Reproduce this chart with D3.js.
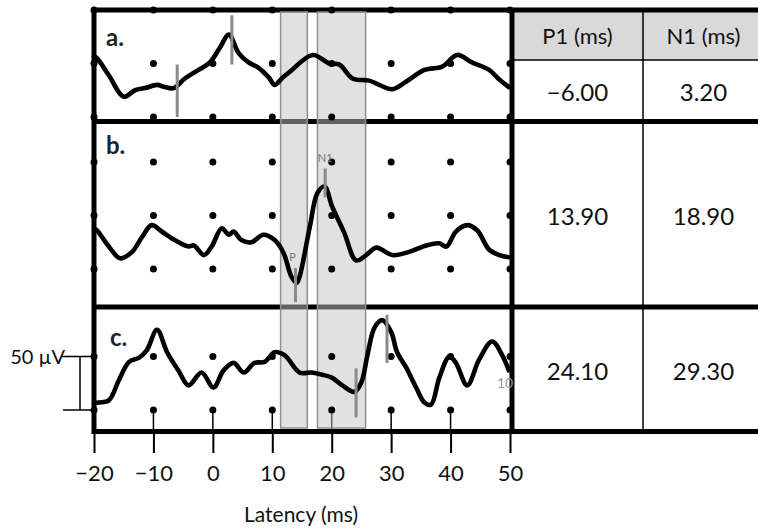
<!DOCTYPE html>
<html>
<head>
<meta charset="utf-8">
<script src="https://cdn.jsdelivr.net/npm/d3@7"></script>
<style>
  body { margin: 0; background: #fff; }
  svg { display: block; font-family: Lato, "Open Sans", sans-serif; }
</style>
</head>
<body>
<div id="chart"></div>
<script>
// traces, [latency ms, amplitude uV]
var traceA = [[-20,57],[-19.5,55],[-17.5,39],[-15.0,19],[-13.1,25],[-11.4,27],[-9.4,30],[-8.1,28],[-6.6,27],
  [-4.7,36],[-2.4,44],[-0.5,51],[1.2,65],[2.7,77],[4.3,60],[6.0,51],[7.7,46],[9.4,37],[10.4,30],[11.6,36],
  [12.9,42],[16.8,58],[19.6,50],[21.3,49],[23.5,36],[26.3,34],[28.0,30],[30.2,26],[32.5,33],[35.6,44],
  [38.6,47],[41.1,58],[43.6,51],[46.5,44],[48.2,35],[49.8,28]];
var traceB = [[-20,38],[-19.5,36],[-17.5,21],[-15.6,10],[-13.6,16],[-11.9,30],[-10.3,41],[-8.6,35],[-6.4,27],
  [-4.1,21],[-3.2,22],[-1.5,13],[-0.2,21],[1.5,38],[2.7,32],[3.5,35],[4.8,27],[6.5,25],[8.5,32],[10.4,27],
  [11.9,15],[13.2,-7],[14.1,-13],[14.6,-7],[16.3,39],[17.6,71],[18.8,77],[20.1,58],[22.1,34],[24.1,8],
  [25.8,13],[27.5,20],[30.2,13],[33.0,16],[35.9,22],[38.1,24],[39.3,21],[40.9,35],[42.8,41],[44.5,36],
  [46.5,18],[48.2,13],[49.8,11]];
var traceC = [[-20,6],[-19.2,7],[-17.5,9],[-15.8,28],[-14.1,45],[-12.4,49],[-11.1,56],[-9.4,75],[-7.7,54],
  [-5.7,36],[-4.1,23],[-1.9,35],[0.1,21],[1.8,37],[3.5,44],[5.2,35],[7.0,44],[8.7,45],[10.4,54],[12.1,51],
  [14.6,35],[16.6,35],[18.4,33],[20.1,30],[21.8,23],[23.8,17],[25.0,26],[26.0,51],[27.2,77],[28.5,84],
  [30.0,73],[31.0,54],[32.5,40],[34.2,21],[35.6,7],[36.7,5],[38.1,30],[39.8,50],[40.9,44],[42.8,23],
  [44.8,47],[47.0,64],[48.7,51],[49.8,37]];

var panelLabels = ["a.", "b.", "c."];
var p1Latency = [-6.00, 13.90, 24.10];
var n1Latency = [3.20, 18.90, 29.30];
var p1Span = [[0,49],[-31,1],[-7,39]];
var n1Span = [[49,95],[67,94],[44,89]];
var tableHeaders = ["P1 (ms)", "N1 (ms)"];
var windowsMs = [[11.4,15.9],[17.6,25.7]];
var xTicks = [-20,-10,0,10,20,30,40,50];
var dotX = [-20,-10,0,10,20,30,40,50];
var dotLevels = [[0,50,100],[0,50,100],[0,50]];

var w = 758, h = 531;
var svg = d3.select("#chart").append("svg")
  .attr("width", w)
  .attr("height", h);

var x = d3.scaleLinear().domain([-20, 50]).range([94, 510]);
var uvPx = 53.5/50;

var panels = [
  {top: 10, bottom: 121.5, zero: 117, data: traceA},
  {top: 121.5, bottom: 307, zero: 269, data: traceB},
  {top: 307, bottom: 431.5, zero: 410, data: traceC}
];
panels.forEach(function(p){
  p.y = d3.scaleLinear().domain([0, 50]).range([p.zero, p.zero - 50*uvPx]);
});

var tableL = 512, tableMid = 643, tableR = 764, headerB = 60;

// header fill
svg.append("rect")
  .attr("x", tableL).attr("y", 10)
  .attr("width", tableR - tableL).attr("height", headerB - 10)
  .style("fill", "#d9d9d9");

// inner ticks in panel c, from lowest dots down to the axis
svg.selectAll(".itick")
  .data(xTicks.slice(1, -1))
  .enter().append("line")
  .attr("x1", function(d){ return x(d); })
  .attr("x2", function(d){ return x(d); })
  .attr("y1", panels[2].zero)
  .attr("y2", 431)
  .attr("stroke", "#000")
  .attr("stroke-width", 1.5);

// frame lines
var thick = 5;
[10, 121.5, 307, 431.5].forEach(function(yy){
  svg.append("line")
    .attr("x1", 92).attr("x2", w + 10)
    .attr("y1", yy).attr("y2", yy)
    .attr("stroke", "#000").attr("stroke-width", thick);
});
svg.append("line")
  .attr("x1", 94).attr("x2", 94).attr("y1", 8).attr("y2", 434)
  .attr("stroke", "#000").attr("stroke-width", thick);
svg.append("line")
  .attr("x1", tableL).attr("x2", tableL).attr("y1", 8).attr("y2", 434)
  .attr("stroke", "#000").attr("stroke-width", thick);
svg.append("line")
  .attr("x1", tableMid).attr("x2", tableMid).attr("y1", 10).attr("y2", 432)
  .attr("stroke", "#000").attr("stroke-width", 1.5);
svg.append("line")
  .attr("x1", tableL).attr("x2", w + 10).attr("y1", headerB).attr("y2", headerB)
  .attr("stroke", "#000").attr("stroke-width", 1.5);

// analysis windows
svg.selectAll(".win")
  .data(windowsMs)
  .enter().append("rect")
  .attr("class", "win")
  .attr("x", function(d){ return x(d[0]); })
  .attr("y", 12)
  .attr("width", function(d){ return x(d[1]) - x(d[0]); })
  .attr("height", 416)
  .style("fill", "#c4c4c4")
  .style("fill-opacity", 0.5)
  .style("stroke", "#8f8f8f")
  .style("stroke-width", 1.5);

// grid dots
panels.forEach(function(p, i){
  dotLevels[i].forEach(function(lv){
    svg.selectAll(null)
      .data(dotX)
      .enter().append("circle")
      .attr("cx", function(d){ return x(d); })
      .attr("cy", p.y(lv))
      .attr("r", 3.5)
      .style("fill", "#000");
  });
});

// traces
panels.forEach(function(p){
  var line = d3.line()
    .curve(d3.curveCatmullRom.alpha(0.5))
    .x(function(d){ return x(d[0]); })
    .y(function(d){ return p.y(d[1]); });
  svg.append("path")
    .datum(p.data)
    .attr("d", line)
    .attr("fill", "none")
    .attr("stroke", "#000")
    .attr("stroke-width", 4.6)
    .attr("stroke-linejoin", "round")
    .attr("stroke-linecap", "round");
});

// P1 / N1 markers
panels.forEach(function(p, i){
  [[p1Latency[i], p1Span[i]], [n1Latency[i], n1Span[i]]].forEach(function(m){
    svg.append("line")
      .attr("x1", x(m[0])).attr("x2", x(m[0]))
      .attr("y1", p.y(m[1][0])).attr("y2", p.y(m[1][1]))
      .attr("stroke", "#8a8a8a")
      .attr("stroke-width", 3);
  });
});

// little grey marker labels
svg.append("text").attr("x", x(p1Latency[1]) - 3).attr("y", 261)
  .attr("text-anchor", "middle").style("font-size", "11px").style("fill", "#777").text("P");
svg.append("text").attr("x", x(n1Latency[1])).attr("y", 162)
  .attr("text-anchor", "middle").style("font-size", "11px").style("fill", "#777").text("N1");
svg.append("text").attr("x", 497).attr("y", 388)
  .style("font-size", "14px").style("fill", "#999").text("10");

// panel labels
svg.selectAll(".plab")
  .data(panelLabels)
  .enter().append("text")
  .attr("x", function(d, i){ return i == 2 ? 110 : 106; })
  .attr("y", function(d, i){ return [46, 154, 346][i]; })
  .style("font-size", "24px")
  .style("font-weight", "bold")
  .style("fill", "#222")
  .text(String);

// x axis
var axis = svg.append("g")
  .attr("transform", "translate(0,432)")
  .call(d3.axisBottom(x).tickValues(xTicks).tickSize(21).tickPadding(12));
axis.select(".domain").remove();
axis.selectAll(".tick line").attr("stroke-width", 2);
axis.selectAll(".tick text")
  .style("font-family", "Lato, sans-serif")
  .style("font-size", "22px")
  .style("fill", "#111");

svg.append("text")
  .attr("x", 301).attr("y", 522)
  .attr("text-anchor", "middle")
  .style("font-size", "21px")
  .style("fill", "#111")
  .text("Latency (ms)");

// 50 uV scale bar
var sb = panels[2];
svg.append("line").attr("x1", 62).attr("x2", 93).attr("y1", sb.y(50)).attr("y2", sb.y(50))
  .attr("stroke", "#000").attr("stroke-width", 1.5);
svg.append("line").attr("x1", 63).attr("x2", 93).attr("y1", sb.y(0)).attr("y2", sb.y(0))
  .attr("stroke", "#000").attr("stroke-width", 1.5);
svg.append("line").attr("x1", 80).attr("x2", 80).attr("y1", sb.y(50)).attr("y2", sb.y(0))
  .attr("stroke", "#000").attr("stroke-width", 1.5);
svg.append("text")
  .attr("x", 65).attr("y", sb.y(50) + 7)
  .attr("text-anchor", "end")
  .style("font-size", "20px")
  .style("fill", "#111")
  .text("50 µV");

// table text
var fmt = d3.format(".2f");
var colX = [(tableL + tableMid)/2, (tableMid + tableR)/2];
tableHeaders.forEach(function(t, j){
  svg.append("text")
    .attr("x", colX[j]).attr("y", 36)
    .attr("dy", "0.35em")
    .attr("text-anchor", "middle")
    .style("font-size", "22px")
    .style("fill", "#111")
    .text(t);
});
var rowY = [(headerB + 121.5)/2, (121.5 + 307)/2, (307 + 431.5)/2];
panels.forEach(function(p, i){
  [p1Latency[i], n1Latency[i]].forEach(function(v, j){
    svg.append("text")
      .attr("x", colX[j]).attr("y", rowY[i] + 2)
      .attr("dy", "0.35em")
      .attr("text-anchor", "middle")
      .style("font-size", "24px")
      .style("fill", "#111")
      .text(fmt(v));
  });
});
</script>
</body>
</html>
